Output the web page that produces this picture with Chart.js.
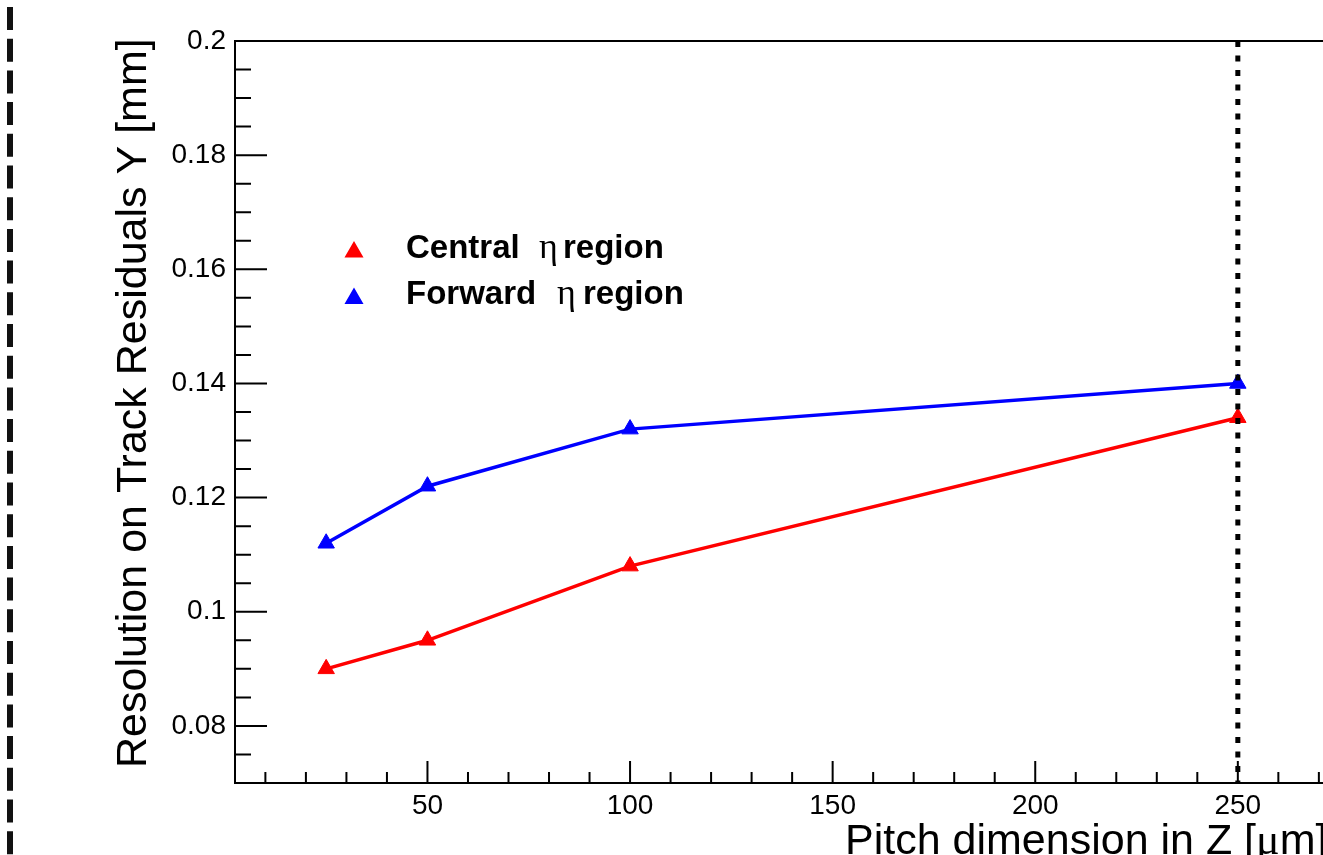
<!DOCTYPE html>
<html>
<head>
<meta charset="utf-8">
<script src="https://cdn.jsdelivr.net/npm/chart.js@4.4.1/dist/chart.umd.min.js"></script>
<style>
  html, body { margin: 0; padding: 0; background: #fff; overflow: hidden; }
  #wrap { width: 1340px; height: 855px; }
</style>
</head>
<body>
<div id="wrap"><canvas id="resPlot" width="1340" height="855"></canvas></div>
<script>
// pitch in Z (um) and track residual resolution in Y (mm)
const pitch = [25, 50, 100, 250];
const centralRes = [0.090, 0.095, 0.108, 0.134];
const forwardRes = [0.112, 0.122, 0.132, 0.140];

const xRange = [2.5, 272.5];
const yRange = [0.07, 0.2];
const xMajorTicks = [50, 100, 150, 200, 250];
const xTickLabels = ['50', '100', '150', '200', '250'];
const xMinorStep = 10;
const yMajorTicks = [0.08, 0.1, 0.12, 0.14, 0.16, 0.18, 0.2];
const yTickLabels = ['0.08', '0.1', '0.12', '0.14', '0.16', '0.18', '0.2'];
const yMinorStep = 0.005;
const cutPitch = 250;   // dotted vertical line

const SANS = '"Liberation Sans", Arial, Helvetica, sans-serif';
const SERIF = '"Liberation Serif", "Times New Roman", serif';

function near(a, b) { return Math.abs(a - b) < 1e-6; }
function majorIndex(list, v) { return list.findIndex(m => near(m, v)); }

function minorTicks(min, max, step) {
    const out = [];
    const first = Math.ceil(min / step - 1e-9) * step;
    for (let v = first; v <= max + 1e-9; v += step) {
        out.push({ value: Math.round(v * 1e6) / 1e6 });
    }
    return out;
}

function triangle(ctx, color, x, y, r) {
    ctx.fillStyle = color;
    ctx.strokeStyle = color;
    if (Chart.helpers && Chart.helpers.drawPoint) {
        Chart.helpers.drawPoint(ctx, { pointStyle: 'triangle', radius: r, rotation: 0, borderWidth: 1 }, x, y);
    } else {
        ctx.beginPath();
        ctx.moveTo(x, y - r);
        ctx.lineTo(x + r * 0.866, y + r / 2);
        ctx.lineTo(x - r * 0.866, y + r / 2);
        ctx.closePath();
        ctx.fill();
    }
}

// draw text pieces with their own fonts one after another
function drawPieces(ctx, pieces, x, y) {
    pieces.forEach(p => {
        ctx.font = p.font;
        ctx.fillText(p.text, p.x != null ? p.x : x, y);
        x = (p.x != null ? p.x : x) + ctx.measureText(p.text).width;
    });
}

const rootStyle = {
    id: 'rootStyle',
    afterDatasetsDraw(chart) {
        const { ctx, chartArea } = chart;
        const xs = chart.scales.x;
        const px = xs.getPixelForValue(cutPitch);
        ctx.save();
        ctx.strokeStyle = '#000';
        ctx.lineWidth = 5;
        ctx.setLineDash([6, 8.5]);
        ctx.beginPath();
        ctx.moveTo(px, chartArea.top);
        ctx.lineTo(px, chartArea.bottom);
        ctx.stroke();
        ctx.restore();
    },
    afterDraw(chart) {
        const { ctx, chartArea } = chart;
        const xs = chart.scales.x;
        const ys = chart.scales.y;
        ctx.save();

        // frame
        ctx.strokeStyle = '#000';
        ctx.lineWidth = 2;
        ctx.strokeRect(chartArea.left, chartArea.top, chartArea.right - chartArea.left, chartArea.bottom - chartArea.top);

        // inward tick marks
        ctx.lineWidth = 2;
        ctx.beginPath();
        xs.ticks.forEach(t => {
            const p = xs.getPixelForValue(t.value);
            const len = majorIndex(xMajorTicks, t.value) >= 0 ? 22 : 11;
            ctx.moveTo(p, chartArea.bottom);
            ctx.lineTo(p, chartArea.bottom - len);
        });
        ys.ticks.forEach(t => {
            const p = ys.getPixelForValue(t.value);
            const len = majorIndex(yMajorTicks, t.value) >= 0 ? 32 : 16;
            ctx.moveTo(chartArea.left, p);
            ctx.lineTo(chartArea.left + len, p);
        });
        ctx.stroke();

        // axis titles
        ctx.fillStyle = '#000';
        ctx.textAlign = 'left';
        ctx.textBaseline = 'alphabetic';
        ctx.save();
        ctx.translate(146, 768);
        ctx.rotate(-Math.PI / 2);
        ctx.font = '43px ' + SANS;
        ctx.fillText('Resolution on Track Residuals Y [mm]', 0, 0);
        ctx.restore();

        drawPieces(ctx, [
            { text: 'Pitch dimension in Z [', font: '43px ' + SANS },
            { text: 'μ', font: '44px ' + SERIF },
            { text: 'm]', font: '43px ' + SANS }
        ], 845, 854);

        // legend
        triangle(ctx, '#ff0000', 354, 252, 9);
        triangle(ctx, '#0000ff', 354, 298.5, 9);
        ctx.fillStyle = '#000';
        const bold = 'bold 33px ' + SANS;
        const eta = '36px ' + SERIF;
        drawPieces(ctx, [
            { text: 'Central', font: bold, x: 406 },
            { text: 'η', font: eta, x: 539 },
            { text: 'region', font: bold, x: 563 }
        ], 406, 258);
        drawPieces(ctx, [
            { text: 'Forward', font: bold, x: 406 },
            { text: 'η', font: eta, x: 557 },
            { text: 'region', font: bold, x: 583 }
        ], 406, 304);

        // dashed separator at the left edge
        ctx.strokeStyle = '#111';
        ctx.lineWidth = 6;
        ctx.setLineDash([23, 8.7]);
        ctx.beginPath();
        ctx.moveTo(10, 7);
        ctx.lineTo(10, 855);
        ctx.stroke();

        ctx.restore();
    }
};

function series(values) {
    return pitch.map((p, i) => ({ x: p, y: values[i] }));
}

const ctx = document.getElementById('resPlot').getContext('2d');

new Chart(ctx, {
    type: 'line',
    data: {
        datasets: [{
            label: 'Central η region',
            data: series(centralRes),
            borderColor: '#ff0000',
            backgroundColor: '#ff0000',
            borderWidth: 3.5,
            tension: 0,
            fill: false,
            pointStyle: 'triangle',
            pointRadius: 9.5,
            pointBorderWidth: 1,
            pointBackgroundColor: '#ff0000',
            pointBorderColor: '#ff0000'
        }, {
            label: 'Forward η region',
            data: series(forwardRes),
            borderColor: '#0000ff',
            backgroundColor: '#0000ff',
            borderWidth: 3.5,
            tension: 0,
            fill: false,
            pointStyle: 'triangle',
            pointRadius: 9.5,
            pointBorderWidth: 1,
            pointBackgroundColor: '#0000ff',
            pointBorderColor: '#0000ff'
        }]
    },
    options: {
        responsive: false,
        animation: false,
        devicePixelRatio: 1,
        events: [],
        layout: {
            padding: { left: 0, top: 41, right: 11, bottom: 0 }
        },
        scales: {
            x: {
                type: 'linear',
                position: 'bottom',
                min: xRange[0],
                max: xRange[1],
                afterBuildTicks: s => { s.ticks = minorTicks(xRange[0], xRange[1], xMinorStep); },
                afterFit: s => { s.height = 72; },
                grid: { display: false, drawTicks: false },
                border: { display: false },
                ticks: {
                    autoSkip: false,
                    maxRotation: 0,
                    minRotation: 0,
                    padding: 6,
                    color: '#000',
                    font: { size: 28, family: SANS },
                    callback: v => {
                        const i = majorIndex(xMajorTicks, v);
                        return i >= 0 ? xTickLabels[i] : '';
                    }
                }
            },
            y: {
                type: 'linear',
                position: 'left',
                min: yRange[0],
                max: yRange[1],
                afterBuildTicks: s => { s.ticks = minorTicks(yRange[0], yRange[1], yMinorStep); },
                afterFit: s => { s.width = 235; },
                grid: { display: false, drawTicks: false },
                border: { display: false },
                ticks: {
                    autoSkip: false,
                    padding: 9,
                    color: '#000',
                    font: { size: 28, family: SANS },
                    callback: v => {
                        const i = majorIndex(yMajorTicks, v);
                        return i >= 0 ? yTickLabels[i] : '';
                    }
                }
            }
        },
        plugins: {
            legend: { display: false },
            tooltip: { enabled: false }
        }
    },
    plugins: [rootStyle]
});
</script>
</body>
</html>
